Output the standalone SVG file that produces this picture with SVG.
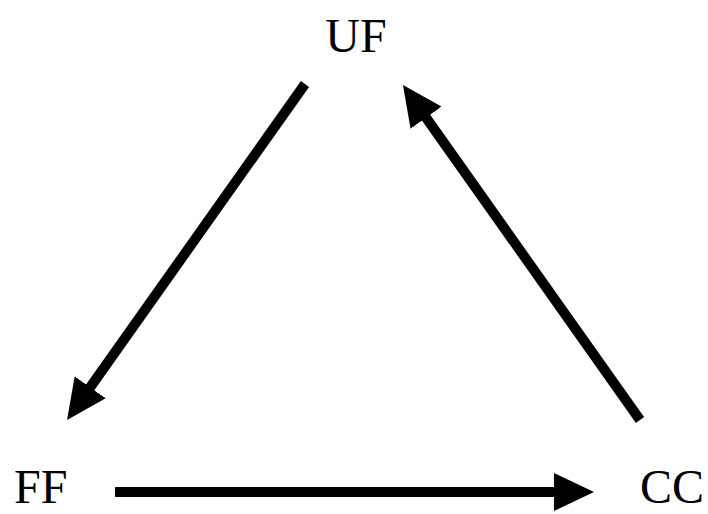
<svg xmlns="http://www.w3.org/2000/svg" width="708" height="514" viewBox="0 0 708 514">
<style>
.lbl{font-family:"Liberation Serif","Times New Roman",serif;font-size:48px;fill:#000}
.edge{stroke:#000;stroke-width:10;fill:none}
</style>
<defs>
<marker id="ah" markerUnits="userSpaceOnUse" markerWidth="40" markerHeight="38" viewBox="0 -19 40 38" refX="10" refY="0" orient="auto">
<path d="M0,-19 L40,0 L0,19 z" fill="#000"/>
</marker>
</defs>
<rect width="708" height="514" fill="#fff"/>
<g id="connectors">
<line class="edge" x1="305" y1="84" x2="84.4" y2="395.5" marker-end="url(#ah)"/>
<line class="edge" x1="115" y1="492" x2="564" y2="492" marker-end="url(#ah)"/>
<line class="edge" x1="640" y1="420" x2="420.3" y2="109.5" marker-end="url(#ah)"/>
</g>
<g id="UF"><text class="lbl" x="356" y="52" text-anchor="middle">UF</text></g>
<g id="FF"><text class="lbl" x="14" y="503">FF</text></g>
<g id="CC"><text class="lbl" x="640" y="503">CC</text></g>
</svg>
